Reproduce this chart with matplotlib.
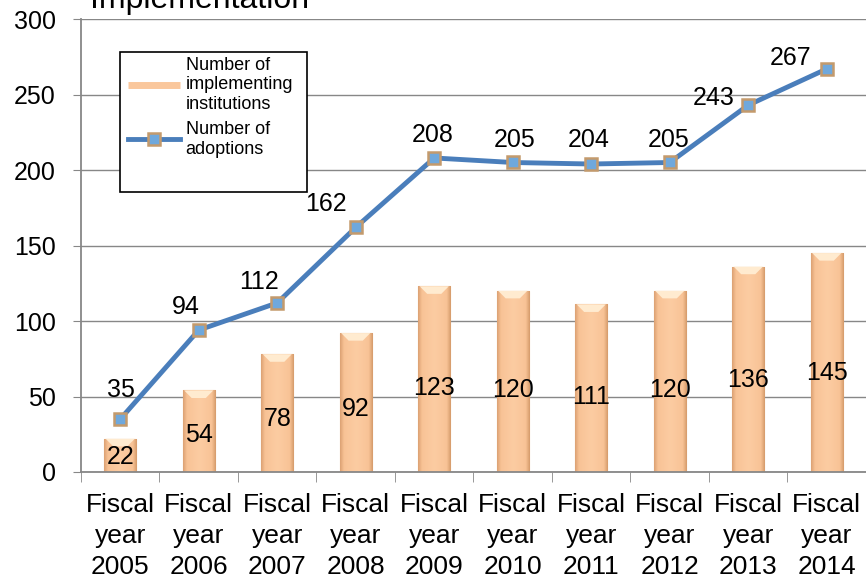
import matplotlib.pyplot as plt
import numpy as np
from matplotlib.lines import Line2D
from matplotlib.patches import Rectangle, Polygon
from matplotlib.colors import LinearSegmentedColormap

# Donnees
years = ["2005", "2006", "2007", "2008", "2009", "2010", "2011", "2012", "2013", "2014"]
institutions = [22, 54, 78, 92, 123, 120, 111, 120, 136, 145]
adoptions = [35, 94, 112, 162, 208, 205, 204, 205, 243, 267]

# decalage des etiquettes de la courbe (pixels)
dx = [1, -13, -18, -30, -2, 2, -3, -1, -35, -36]
dy = [29, 23, 21, 23, 23, 22, 24, 22, 7, 11]

plt.rcParams['font.family'] = ['Liberation Sans', 'DejaVu Sans']

fig = plt.figure(figsize=(8.66, 5.78), dpi=100)
ax = fig.add_axes([0.0935, 0.1834, 0.9065, 0.7836])

x = np.arange(len(years))
peach = '#FAC79C'
blue = '#4A7EBB'

# degrade horizontal des barres (bords plus sombres)
grad = LinearSegmentedColormap.from_list('peach', [(0, '#DDA274'), (0.12, '#F8C396'),
                                                  (0.5, '#FCCCA2'), (0.88, '#F8C396'),
                                                  (1, '#D69C6C')])
bars = ax.bar(x, institutions, width=0.41, color=peach, edgecolor='#E2AC7E', linewidth=0.8, zorder=2)
for b in bars :
    x0, y0 = b.get_x(), b.get_y()
    w, h = b.get_width(), b.get_height()
    im = ax.imshow(np.linspace(0, 1, 64).reshape(1, -1), cmap=grad, aspect='auto',
                   extent=[x0, x0 + w, y0, y0 + h], zorder=2.1)
    im.set_clip_path(b)
    # biseau clair en haut de la barre
    bev = min(5, h * 0.3)
    ax.add_patch(Polygon([[x0 + 0.02, y0 + h], [x0 + w - 0.02, y0 + h],
                          [x0 + w * 0.72, y0 + h - bev], [x0 + w * 0.28, y0 + h - bev]],
                         closed=True, facecolor='#FFEBD0', edgecolor='none', zorder=2.2))

ax.plot(x, adoptions, color=blue, linewidth=3.5, zorder=3,
        marker='s', markersize=9, markerfacecolor='#6FA8DC',
        markeredgecolor='#C49A6C', markeredgewidth=1.8)

for i in range(len(x)) :
    ax.text(x[i], institutions[i] * 0.45, str(institutions[i]), ha='center', va='center',
            fontsize=18, zorder=4)
    ax.annotate(str(adoptions[i]), (x[i], adoptions[i]), xytext=(dx[i], dy[i]),
                textcoords='offset pixels', ha='center', va='center', fontsize=18, zorder=4)

ax.set_xlim(-0.5, 9.5)
ax.set_ylim(0, 300)
ax.set_yticks(range(0, 301, 50))
ax.tick_params(axis='y', labelsize=18, length=6, color='#878787', pad=12)
ax.set_xticks(x)
ax.set_xticklabels(["Fiscal\nyear\n" + y for y in years], fontsize=19, linespacing=1.36)
ax.tick_params(axis='x', length=0, pad=15)
ax.set_xticks(np.arange(-0.5, 10, 1), minor=True)
ax.tick_params(axis='x', which='minor', length=7, color='#878787')

ax.grid(axis='y', color='#878787', linewidth=1, zorder=0)
ax.set_axisbelow(True)
for s in ['top', 'right'] :
    ax.spines[s].set_visible(False)
for s in ['left', 'bottom'] :
    ax.spines[s].set_color('#878787')
    ax.spines[s].set_linewidth(1.3)

# legende avec cadre dessine a part
ax.add_patch(Rectangle((0.05, 0.618), 0.238, 0.309, transform=ax.transAxes, fill=False,
                       edgecolor='black', linewidth=1.2, zorder=5))
ax.add_patch(Rectangle((0.05, 0.618), 0.238, 0.309, transform=ax.transAxes,
                       facecolor='white', edgecolor='none', zorder=1))
handles = [Line2D([0], [0], color=peach, linewidth=5, solid_capstyle='butt'),
           Line2D([0], [0], color=blue, linewidth=3.5, marker='s', markersize=9,
                  markerfacecolor='#6FA8DC', markeredgecolor='#C49A6C', markeredgewidth=1.8)]
labels = ["Number of\nimplementing\ninstitutions", "Number of\nadoptions"]
leg = ax.legend(handles, labels, loc='upper left', bbox_to_anchor=(0.055, 0.925),
                fontsize=13, frameon=False, handlelength=2.9, handletextpad=0.3,
                borderpad=0.2, labelspacing=0.45, borderaxespad=0)
for t in leg.get_texts() :
    t.set_linespacing(1.2)

# titre coupe en haut
fig.text(0.104, 0.987, "Implementation", fontsize=23, ha='left', va='baseline')

plt.savefig('out.png', dpi=100)
